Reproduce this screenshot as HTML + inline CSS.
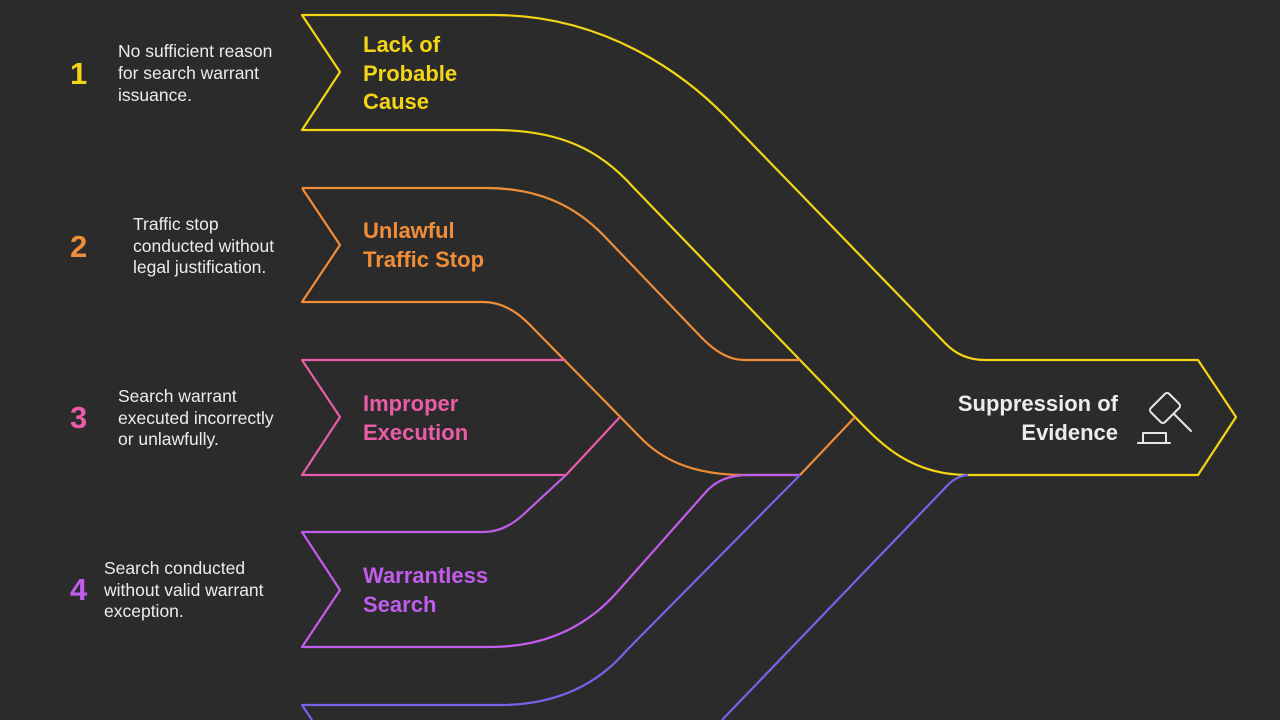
<!DOCTYPE html>
<html><head><meta charset="utf-8"><style>
html,body{margin:0;padding:0;background:#2b2b2b;}
svg{display:block}
.d{font-family:"Liberation Sans",sans-serif;font-size:17.5px;fill:#ececec}
.n{font-family:"Liberation Sans",sans-serif;font-size:31px;font-weight:bold}
.l{font-family:"Liberation Sans",sans-serif;font-size:22px;font-weight:bold}
</style></head><body>
<svg width="1280" height="720" viewBox="0 0 1280 720" xmlns="http://www.w3.org/2000/svg">
<rect width="1280" height="720" fill="#2b2b2b"/>
<g fill="none" stroke-width="2.2" stroke-linejoin="round">
<!-- yellow -->
<path stroke="#f3d516" d="M480,15 H302 L340,72 L302,130 H494 C560,130 600,150 633,187 L855,417 C880,443 910,475 968,475 H1198 L1236,417 L1198,360 H985 Q961,360 945,343 L726,117 C690,80 610,15 494,15 H480"/>
<!-- orange -->
<path stroke="#ef8d38" d="M302,188 L340,245 L302,302 H483 Q508,302 530,325 L640,437 C660,458 690,475 745,475 H800 L855,417"/>
<path stroke="#ef8d38" d="M302,188 H486 C550,188 585,215 608,240 L701,337 Q723,360 744,360 H800"/>
<!-- pink -->
<path stroke="#ea5ca8" d="M566,360 H302 L340,417 L302,475 H566 L620,417"/>
<!-- purple -->
<path stroke="#c25ced" d="M566,475 L525,513 Q505,532 484,532 H302 L340,590 L302,647 H490 Q570,647 619,590 L705,493 Q720,475 748,475 H800"/>
<!-- blue -->
<path stroke="#7762e8" d="M800,475 L627,650 Q580,705 500,705 H302 L312,720"/>
<path stroke="#7762e8" d="M968,475 Q955,476 945,488 L722,720"/>
</g>
<!-- numbers -->
<text class="n" x="70" y="84" fill="#f3d516">1</text>
<text class="n" x="70" y="257" fill="#ef8d38">2</text>
<text class="n" x="70" y="428" fill="#ea5ca8">3</text>
<text class="n" x="70" y="600" fill="#c25ced">4</text>
<!-- descriptions -->
<text class="d"><tspan x="118" y="57">No sufficient reason</tspan><tspan x="118" y="79">for search warrant</tspan><tspan x="118" y="101">issuance.</tspan></text>
<text class="d"><tspan x="133" y="230">Traffic stop</tspan><tspan x="133" y="252">conducted without</tspan><tspan x="133" y="273">legal justification.</tspan></text>
<text class="d"><tspan x="118" y="402">Search warrant</tspan><tspan x="118" y="424">executed incorrectly</tspan><tspan x="118" y="445">or unlawfully.</tspan></text>
<text class="d"><tspan x="104" y="574">Search conducted</tspan><tspan x="104" y="596">without valid warrant</tspan><tspan x="104" y="617">exception.</tspan></text>
<!-- labels -->
<text class="l" fill="#f3d516"><tspan x="363" y="52">Lack of</tspan><tspan x="363" y="81">Probable</tspan><tspan x="363" y="109">Cause</tspan></text>
<text class="l" fill="#ef8d38"><tspan x="363" y="238">Unlawful</tspan><tspan x="363" y="267">Traffic Stop</tspan></text>
<text class="l" fill="#ea5ca8"><tspan x="363" y="411">Improper</tspan><tspan x="363" y="440">Execution</tspan></text>
<text class="l" fill="#c25ced"><tspan x="363" y="583">Warrantless</tspan><tspan x="363" y="612">Search</tspan></text>
<text class="l" fill="#ececec" text-anchor="end"><tspan x="1118" y="411">Suppression of</tspan><tspan x="1118" y="440">Evidence</tspan></text>
<!-- gavel -->
<g fill="none" stroke="#e6e6e6" stroke-width="2" stroke-linecap="round" stroke-linejoin="round">
<rect x="1155" y="395" width="20" height="26" rx="3" transform="rotate(45 1165 408)"/>
<line x1="1174" y1="414" x2="1191" y2="431"/>
<path d="M1143,442 V433 H1166 V442"/>
<line x1="1138" y1="443" x2="1170" y2="443"/>
</g>
</svg>
</body></html>
